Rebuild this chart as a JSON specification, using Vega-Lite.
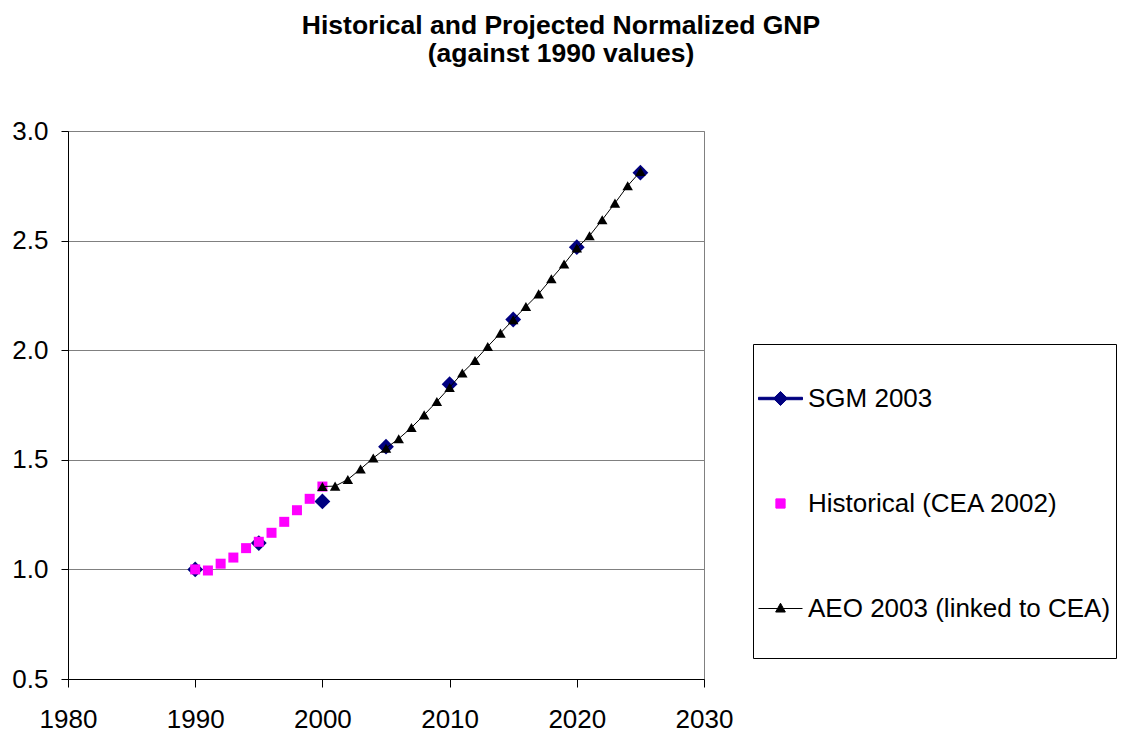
{
  "$schema": "https://vega.github.io/schema/vega-lite/v6.json",
  "autosize": {"type": "none"},
  "padding": {"left": 68, "top": 131, "right": 418, "bottom": 53},
  "width": 636,
  "height": 548,
  "background": "white",
  "title": {
    "text": ["Historical and Projected Normalized GNP", "(against 1990 values)"],
    "font": "Liberation Sans",
    "fontSize": 26.5,
    "fontWeight": "bold",
    "lineHeight": 27.5,
    "color": "black",
    "anchor": "middle",
    "dx": 175,
    "offset": 51
  },
  "config": {
    "view": {"stroke": "#808080", "strokeWidth": 1},
    "axis": {
      "labelFont": "Liberation Sans",
      "labelFontSize": 26,
      "labelColor": "black",
      "domainColor": "black",
      "tickColor": "black",
      "domainWidth": 1,
      "tickWidth": 1,
      "title": null
    }
  },
  "data": {
    "values": [
      {"series": "SGM 2003", "year": 1990, "value": 1.0},
      {"series": "SGM 2003", "year": 1995, "value": 1.12},
      {"series": "SGM 2003", "year": 2000, "value": 1.31},
      {"series": "SGM 2003", "year": 2005, "value": 1.56},
      {"series": "SGM 2003", "year": 2010, "value": 1.845},
      {"series": "SGM 2003", "year": 2015, "value": 2.14},
      {"series": "SGM 2003", "year": 2020, "value": 2.47},
      {"series": "SGM 2003", "year": 2025, "value": 2.81},
      {"series": "Historical (CEA 2002)", "year": 1990, "value": 1.0},
      {"series": "Historical (CEA 2002)", "year": 1991, "value": 0.995},
      {"series": "Historical (CEA 2002)", "year": 1992, "value": 1.026},
      {"series": "Historical (CEA 2002)", "year": 1993, "value": 1.054},
      {"series": "Historical (CEA 2002)", "year": 1994, "value": 1.097},
      {"series": "Historical (CEA 2002)", "year": 1995, "value": 1.126},
      {"series": "Historical (CEA 2002)", "year": 1996, "value": 1.167},
      {"series": "Historical (CEA 2002)", "year": 1997, "value": 1.217},
      {"series": "Historical (CEA 2002)", "year": 1998, "value": 1.27},
      {"series": "Historical (CEA 2002)", "year": 1999, "value": 1.322},
      {"series": "Historical (CEA 2002)", "year": 2000, "value": 1.378},
      {"series": "AEO 2003 (linked to CEA)", "year": 2000, "value": 1.378},
      {"series": "AEO 2003 (linked to CEA)", "year": 2001, "value": 1.38},
      {"series": "AEO 2003 (linked to CEA)", "year": 2002, "value": 1.41},
      {"series": "AEO 2003 (linked to CEA)", "year": 2003, "value": 1.458},
      {"series": "AEO 2003 (linked to CEA)", "year": 2004, "value": 1.508},
      {"series": "AEO 2003 (linked to CEA)", "year": 2005, "value": 1.553},
      {"series": "AEO 2003 (linked to CEA)", "year": 2006, "value": 1.596},
      {"series": "AEO 2003 (linked to CEA)", "year": 2007, "value": 1.647},
      {"series": "AEO 2003 (linked to CEA)", "year": 2008, "value": 1.705},
      {"series": "AEO 2003 (linked to CEA)", "year": 2009, "value": 1.766},
      {"series": "AEO 2003 (linked to CEA)", "year": 2010, "value": 1.83},
      {"series": "AEO 2003 (linked to CEA)", "year": 2011, "value": 1.896},
      {"series": "AEO 2003 (linked to CEA)", "year": 2012, "value": 1.953},
      {"series": "AEO 2003 (linked to CEA)", "year": 2013, "value": 2.017},
      {"series": "AEO 2003 (linked to CEA)", "year": 2014, "value": 2.078},
      {"series": "AEO 2003 (linked to CEA)", "year": 2015, "value": 2.139},
      {"series": "AEO 2003 (linked to CEA)", "year": 2016, "value": 2.199},
      {"series": "AEO 2003 (linked to CEA)", "year": 2017, "value": 2.257},
      {"series": "AEO 2003 (linked to CEA)", "year": 2018, "value": 2.326},
      {"series": "AEO 2003 (linked to CEA)", "year": 2019, "value": 2.393},
      {"series": "AEO 2003 (linked to CEA)", "year": 2020, "value": 2.466},
      {"series": "AEO 2003 (linked to CEA)", "year": 2021, "value": 2.522},
      {"series": "AEO 2003 (linked to CEA)", "year": 2022, "value": 2.595},
      {"series": "AEO 2003 (linked to CEA)", "year": 2023, "value": 2.671},
      {"series": "AEO 2003 (linked to CEA)", "year": 2024, "value": 2.75},
      {"series": "AEO 2003 (linked to CEA)", "year": 2025, "value": 2.815}
    ]
  },
  "encoding": {
    "x": {
      "field": "year",
      "type": "quantitative",
      "scale": {"domain": [1980, 2030], "nice": false, "zero": false},
      "axis": {
        "values": [1980, 1990, 2000, 2010, 2020, 2030],
        "format": "d",
        "grid": false,
        "tickSize": 8,
        "labelPadding": 19,
        "labelFlush": false
      }
    },
    "y": {
      "field": "value",
      "type": "quantitative",
      "scale": {"domain": [0.5, 3.0], "nice": false, "zero": false},
      "axis": {
        "values": [0.5, 1.0, 1.5, 2.0, 2.5, 3.0],
        "format": ".1f",
        "grid": true,
        "gridColor": "#808080",
        "gridOpacity": 1,
        "gridWidth": 1,
        "tickSize": 7,
        "labelPadding": 13
      }
    }
  },
  "layer": [
    {
      "transform": [{"filter": "datum.series === 'SGM 2003'"}],
      "mark": {"type": "point", "shape": "diamond", "filled": true, "size": 250, "opacity": 1},
      "encoding": {
        "color": {
          "field": "series",
          "type": "nominal",
          "scale": {
            "domain": ["SGM 2003", "Historical (CEA 2002)", "AEO 2003 (linked to CEA)"],
            "range": ["#000080", "#FF00FF", "#000000"]
          },
          "legend": {
            "orient": "none",
            "legendX": 685,
            "legendY": 213,
            "title": " ",
            "titleFontSize": 10,
            "titlePadding": 17,
            "padding": 5,
            "strokeColor": "black",
            "fillColor": "white",
            "symbolSize": 1936,
            "symbolType": {"expr": "datum.value === 'SGM 2003' ? 'M-1,-0.055L1,-0.055L1,0.055L-1,0.055ZM0,-0.32L0.32,0L0,0.32L-0.32,0Z' : datum.value === 'Historical (CEA 2002)' ? 'M-0.21,-0.21L0.21,-0.21L0.21,0.21L-0.21,0.21Z' : 'M-1,0L1,0M0,-0.24L0.22,0.16L-0.22,0.16ZM0,1.9'"},
            "symbolStrokeColor": {"expr": "datum.value === 'SGM 2003' ? '#000080' : datum.value === 'Historical (CEA 2002)' ? '#FF00FF' : '#000000'"},
            "symbolStrokeWidth": 1,
            "symbolOpacity": 1,
            "labelOffset": 5,
            "rowPadding": 69,
            "labelFont": "Liberation Sans",
            "labelFontSize": 26,
            "labelColor": "black",
            "labelLimit": 500
          }
        }
      }
    },
    {
      "transform": [{"filter": "datum.series === 'Historical (CEA 2002)'"}],
      "mark": {"type": "point", "shape": "square", "filled": true, "size": 100, "opacity": 1, "color": "#FF00FF"},
      "encoding": {}
    },
    {
      "transform": [{"filter": "datum.series === 'AEO 2003 (linked to CEA)'"}],
      "mark": {"type": "line", "color": "black", "strokeWidth": 1},
      "encoding": {}
    },
    {
      "transform": [{"filter": "datum.series === 'AEO 2003 (linked to CEA)'"}],
      "mark": {"type": "point", "shape": "triangle-up", "filled": true, "size": 110, "opacity": 1, "color": "black"},
      "encoding": {}
    }
  ]
}
